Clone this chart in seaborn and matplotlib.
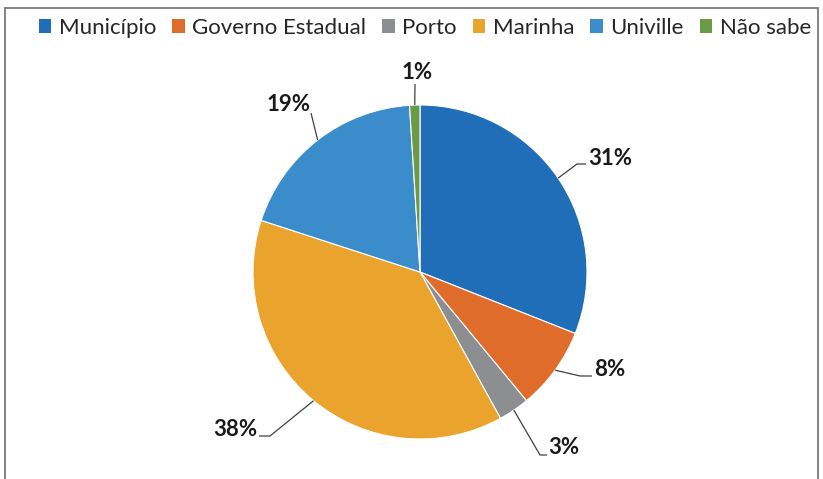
import matplotlib
matplotlib.use("Agg")
import matplotlib.pyplot as plt
from matplotlib.patches import Patch
from matplotlib.lines import Line2D
import numpy as np
import seaborn as sns

# Responses: who should be responsible
categories = ["Município", "Governo Estadual", "Porto", "Marinha", "Univille", "Não sabe"]
shares = [31, 8, 3, 38, 19, 1]
colors = ["#1F6EB7", "#E06C2B", "#8C8E91", "#EAA32C", "#3A8DCA", "#6A9C45"]

sns.set_theme(style="white")
plt.rcParams["font.family"] = ["Lato", "DejaVu Sans"]

W, H = 823, 479
fig = plt.figure(figsize=(W / 100, H / 100), dpi=100)
ax = fig.add_axes([0, 0, 1, 1])


def px(x, y):
    """Pixel position (origin top-left) to data coordinates."""
    return x, H - y


cx, cy = px(420, 272)
R = 167
wedges, _ = ax.pie(shares, colors=colors, startangle=90, counterclock=False,
                   center=(cx, cy), radius=R,
                   wedgeprops=dict(edgecolor="white", linewidth=0.8))
ax.set_xlim(0, W)
ax.set_ylim(0, H)
ax.set_aspect("equal")
ax.axis("off")

# Leader elbows and label placement (pixels) for each slice
elbows = [[(577, 164), (586, 164)],
          [(580, 376), (592, 376)],
          [(540, 455), (547, 455)],
          [(270, 436), (259, 436)],
          [(311, 113)],
          [(415, 84)]]
label_pos = [(588, 158, "left"), (594, 370, "left"), (548, 448, "left"),
             (257, 429, "right"), (311, 104, "right"), (417, 72, "center")]

for w, val, elb, (tx, ty, ha) in zip(wedges, shares, elbows, label_pos):
    mid = np.deg2rad((w.theta1 + w.theta2) / 2)
    ax0 = cx + R * np.cos(mid)
    ay0 = cy + R * np.sin(mid)
    pts = [(ax0, ay0)] + [px(*p) for p in elb]
    xs, ys = zip(*pts)
    ax.plot(xs, ys, color="#404040", lw=0.9, solid_capstyle="butt")
    ax.text(*px(tx, ty), f"{val}%", ha=ha, va="center",
            fontsize=16, fontweight="bold", color="#1a1a1a")

handles = [Patch(facecolor=c, edgecolor="none") for c in colors]
fig.legend(handles, categories, loc="center", bbox_to_anchor=(425 / W, 1 - 28 / H),
           ncol=6, frameon=False, fontsize=16, handlelength=0.55, handleheight=0.55,
           handletextpad=0.35, columnspacing=0.72, borderaxespad=0)

# Chart frame
frame = dict(color="#7a7a7a", lw=1.3, transform=fig.transFigure)
fig.add_artist(Line2D([5 / W, 818 / W], [1 - 8 / H, 1 - 8 / H], **frame))
fig.add_artist(Line2D([5 / W, 5 / W], [0, 1 - 8 / H], **frame))
fig.add_artist(Line2D([818 / W, 818 / W], [0, 1 - 8 / H], **frame))

fig.savefig("out.png", dpi=100, facecolor="white")
